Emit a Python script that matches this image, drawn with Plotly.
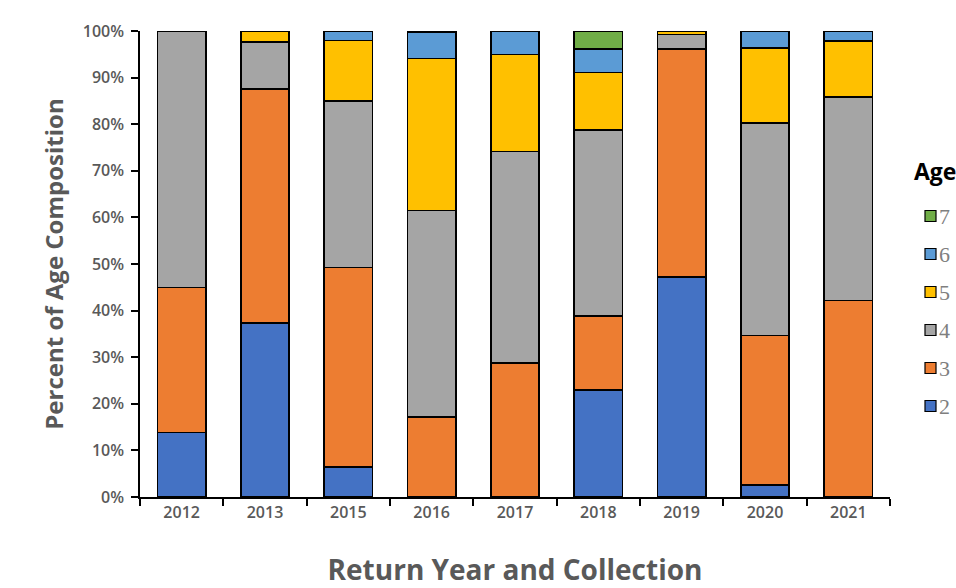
import plotly.graph_objects as go

# Return years sampled
years = ["2012", "2013", "2015", "2016", "2017", "2018", "2019", "2020", "2021"]

# Percent of each age class per return year
age2 = [13.8, 37.3, 6.4, 0.0, 0.0, 23.0, 47.2, 2.6, 0.0]
age3 = [31.2, 50.3, 42.8, 17.2, 28.8, 15.8, 48.9, 32.1, 42.2]
age4 = [55.0, 10.0, 35.8, 44.3, 45.3, 40.0, 3.1, 45.6, 43.6]
age5 = [0.0, 2.4, 13.0, 32.6, 20.9, 12.3, 0.8, 16.1, 12.1]
age6 = [0.0, 0.0, 2.0, 5.6, 5.0, 5.0, 0.0, 3.6, 2.1]
age7 = [0.0, 0.0, 0.0, 0.3, 0.0, 3.9, 0.0, 0.0, 0.0]

age_names = ["2", "3", "4", "5", "6", "7"]
age_values = [age2, age3, age4, age5, age6, age7]
age_colors = ["#4472C4", "#ED7D31", "#A5A5A5", "#FFC000", "#5B9BD5", "#70AD47"]

W, H = 956, 588
ML, MR, MT, MB = 140, 66, 31, 91
PW, PH = W - ML - MR, H - MT - MB


def px_to_paper(px, py):
    """Convert page pixel position to paper coordinates."""
    return (px - ML) / PW, (H - MB - py) / PH


fig = go.Figure()
for name, vals, color in zip(age_names, age_values, age_colors):
    fig.add_trace(go.Bar(
        x=years, y=vals, name=name, showlegend=False,
        marker=dict(color=color, line=dict(color="#000000", width=1.5)),
    ))

# Legend drawn beside the plot: oldest age at the top
shapes, annotations = [], []
tx, ty = px_to_paper(912, 171)
annotations.append(dict(
    x=tx, y=ty, xref="paper", yref="paper", xanchor="left", yanchor="middle",
    text="<b>Age</b>", showarrow=False,
    font=dict(family="Open Sans, sans-serif", size=23, color="#000000"),
))
row_y0, row_step = 216, 38
for i, (name, color) in enumerate(zip(reversed(age_names), reversed(age_colors))):
    cy = row_y0 + i * row_step
    x0, y0 = px_to_paper(925, cy + 5.5)
    x1, y1 = px_to_paper(936, cy - 5.5)
    shapes.append(dict(type="rect", xref="paper", yref="paper",
                       x0=x0, y0=y0, x1=x1, y1=y1,
                       fillcolor=color, line=dict(color="#000000", width=1.2)))
    lx, ly = px_to_paper(937, cy)
    annotations.append(dict(
        x=lx, y=ly, xref="paper", yref="paper", xanchor="left", yanchor="middle",
        text=name, showarrow=False,
        font=dict(family="Liberation Serif", size=22, color="#7F7F7F"),
    ))

tick_font = dict(family="Open Sans, sans-serif", size=16, color="#595959", weight=600)

fig.update_layout(
    barmode="stack",
    bargap=0.42,
    width=W, height=H,
    margin=dict(l=ML, r=MR, t=MT, b=MB, autoexpand=False),
    paper_bgcolor="white", plot_bgcolor="white",
    showlegend=False,
    shapes=shapes,
    annotations=annotations,
    xaxis=dict(
        type="category",
        showline=True, linecolor="#000000", linewidth=1.5,
        ticks="outside", tickson="boundaries", ticklen=7, tickwidth=1.5, tickcolor="#000000",
        tickfont=tick_font,
        title=dict(text="Return Year and Collection", standoff=48,
                   font=dict(family="Open Sans, sans-serif", size=28, color="#595959", weight="bold")),
    ),
    yaxis=dict(
        range=[0, 100], dtick=10, ticksuffix="%",
        showline=True, linecolor="#000000", linewidth=1.5,
        ticks="outside", ticklen=7, tickwidth=1.5, tickcolor="#000000",
        showgrid=False, zeroline=False,
        tickfont=tick_font,
        ticklabelstandoff=4,
        title=dict(text="Percent of Age Composition", standoff=12,
                   font=dict(family="Open Sans, sans-serif", size=24, color="#595959", weight="bold")),
    ),
)

fig.write_html("out.html")
